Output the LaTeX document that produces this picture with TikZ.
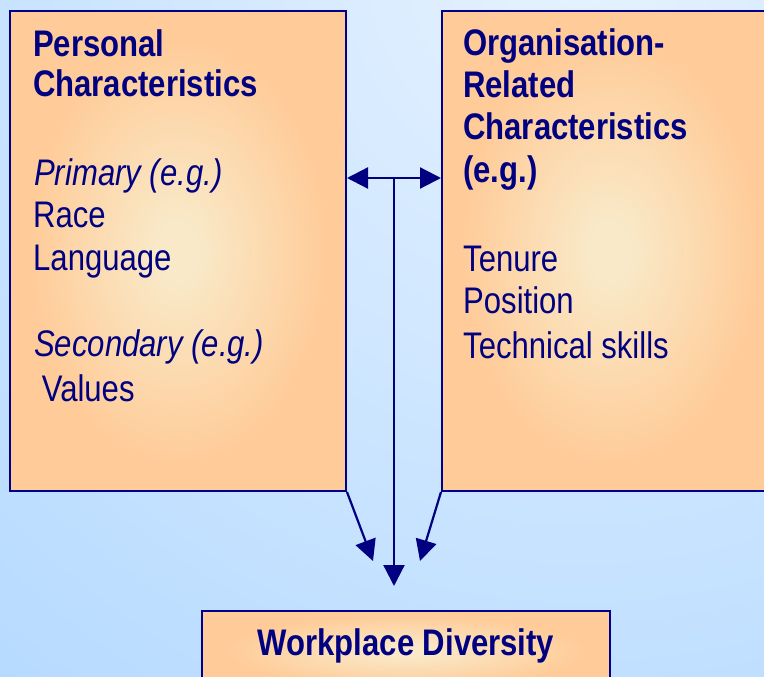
\documentclass[tikz,border=0pt]{standalone}
\usepackage{fontspec}
\setmainfont{Liberation Sans}[FakeStretch=0.84]
\usetikzlibrary{arrows.meta,calc}
\definecolor{navy}{RGB}{0,0,128}
\definecolor{bordernavy}{RGB}{0,0,140}
\definecolor{bgin}{RGB}{230,242,255}
\definecolor{bgout}{RGB}{155,205,255}
\definecolor{boxin}{RGB}{249,233,200}
\definecolor{boxout}{RGB}{255,204,153}
\pgfdeclareradialshading{bgshade}{\pgfpoint{0bp}{0bp}}{color(0bp)=(bgin); color(25bp)=(bgout); color(50bp)=(bgout)}
\pgfdeclareradialshading{boxshade}{\pgfpoint{0bp}{0bp}}{color(0bp)=(boxin); color(3bp)=(boxin); color(22bp)=(boxout); color(50bp)=(boxout)}
\begin{document}
\begin{tikzpicture}[x=1pt,y=-1pt,
  txt/.style={inner sep=0pt, anchor=base west, text=navy, font=\fontsize{37}{40}\selectfont},
  bold/.style={txt, font=\fontsize{37}{40}\selectfont\bfseries},
  ital/.style={txt, font=\fontsize{37}{40}\selectfont\itshape},
  box/.style={draw=bordernavy, line width=2pt, shading=boxshade, inner sep=0pt},
  conn/.style={draw=navy, line width=2.2pt},
  arrowend/.style={-{Triangle[length=21pt,width=21pt]}},
  twoends/.style={{Triangle[length=21pt,width=21pt]}-{Triangle[length=21pt,width=21pt]}}]
\useasboundingbox (0,0) rectangle (764,677);
\begin{scope}
  \clip (0,0) rectangle (764,677);
  \shade[shading=bgshade] (-860,-1480) rectangle (2020,1400);
\end{scope}
% boxes
\node[box, minimum width=336pt, minimum height=480pt] (pers) at (178,251) {};
\node[box, minimum width=336pt, minimum height=480pt] (org) at (610,251) {};
\node[box, minimum width=408pt, minimum height=80pt] (div) at (406,651) {};
% left texts
\node[bold] (p1) at (33,57) {Personal};
\node[bold] (p2) at (33,97) {Characteristics};
\node[ital] (p3) at (34,185) {Primary (e.g.)};
\node[txt] (p4) at (33,227) {Race};
\node[txt] (p5) at (33,270) {Language};
\node[ital] (p6) at (34,356) {Secondary (e.g.)};
\node[txt] (p7) at (33,401) {\ Values};
% right texts
\node[bold] (o1) at (463,56) {Organisation-};
\node[bold] (o2) at (463,97.5) {Related};
\node[bold] (o3) at (463,139.5) {Characteristics};
\node[bold] (o4) at (463,182.5) {(e.g.)};
\node[txt] (o5) at (463,271) {Tenure};
\node[txt] (o6) at (463,313) {Position};
\node[txt] (o7) at (463,358.5) {Technical skills};
% bottom text
\node[bold, anchor=base] (d1) at (406,655) {Workplace Diversity};
% connectors
\coordinate (hl) at ($(pers.north east)+(0,168)$);
\coordinate (hr) at ($(org.north west)+(0,168)$);
\draw[conn, twoends] (hl) -- (hr);
\coordinate (vtop) at ($(hl)!0.5!(hr)$);
\coordinate (vtip) at ($(div.north)+(-12,-24)$);
\draw[conn, arrowend] (vtop) -- (vtip);
\coordinate (dl) at ($(div.north)+(-33,-49)$);
\coordinate (dr) at ($(div.north)+(14,-49)$);
\draw[conn, arrowend] (pers.south east) -- (dl);
\draw[conn, arrowend] (org.south west) -- (dr);
\end{tikzpicture}
\end{document}
